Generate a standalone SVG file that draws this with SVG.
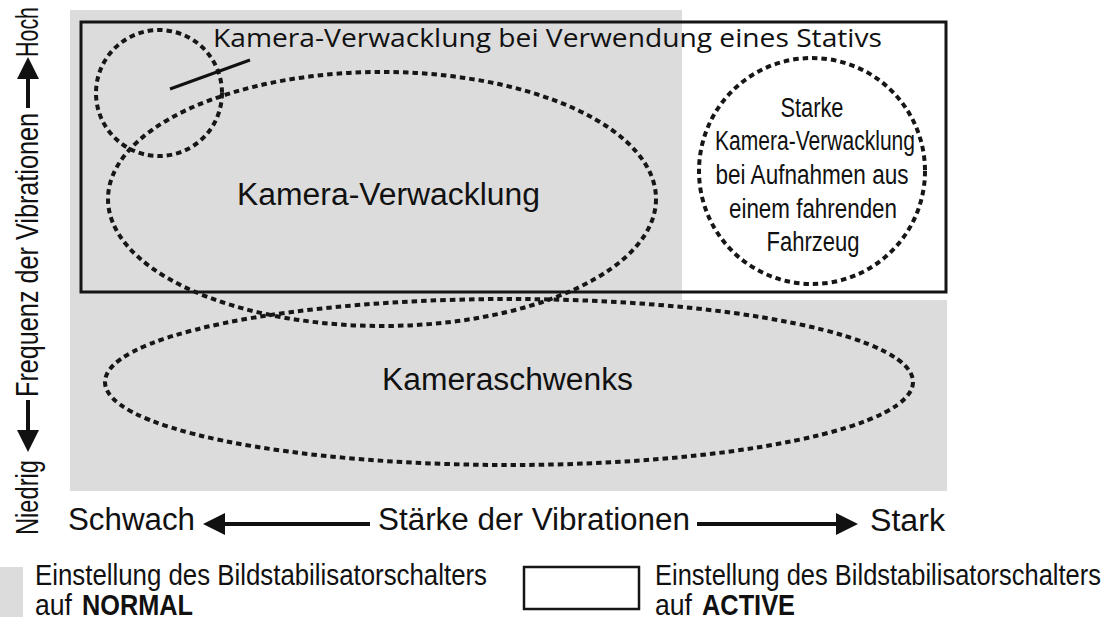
<svg xmlns="http://www.w3.org/2000/svg" width="1110" height="623" viewBox="0 0 1110 623">
<defs>
<style>
.grey{fill:#dcdcdc}
.frame{fill:none;stroke:#151515;stroke-width:3}
.dot{fill:none;stroke:#161616;stroke-width:4;stroke-dasharray:5.5 4}
.lbl{font-family:"Liberation Sans",Arial,sans-serif;fill:#111}
.cond{font-family:"Liberation Sans Narrow","Liberation Sans",Arial,sans-serif;fill:#111}
.myr{font-family:"Open Sans","Liberation Sans",sans-serif;fill:#111}
.arr{stroke:#111;stroke-width:4;fill:none}
</style>
<marker id="ah" viewBox="0 0 22 22" refX="10" refY="11" markerWidth="22" markerHeight="22" markerUnits="userSpaceOnUse" orient="auto"><path d="M0,0 L22,11 L0,22 z" fill="#111"/></marker>
</defs>
<rect width="1110" height="623" fill="#fff"/>
<g id="normal-area">
<rect class="grey" x="70" y="10" width="612" height="290"/>
<rect class="grey" x="70" y="300" width="877" height="191"/>
</g>
<g id="active-area">
<rect class="frame" x="81" y="22" width="865" height="270"/>
</g>
<g id="node-stativ">
<circle class="dot" cx="159" cy="93" r="63"/>
<line x1="170" y1="89" x2="250" y2="60" stroke="#111" stroke-width="3"/>
<text class="myr" x="213" y="47" font-size="26" textLength="669" lengthAdjust="spacingAndGlyphs">Kamera-Verwacklung bei Verwendung eines Stativs</text>
</g>
<g id="node-verwacklung">
<ellipse class="dot" cx="382" cy="199" rx="274" ry="127"/>
<text class="lbl" x="237" y="205" font-size="31" textLength="303" lengthAdjust="spacingAndGlyphs">Kamera-Verwacklung</text>
</g>
<g id="node-schwenks">
<ellipse class="dot" cx="509" cy="382" rx="404" ry="83"/>
<text class="lbl" x="382" y="390" font-size="31" textLength="251" lengthAdjust="spacingAndGlyphs">Kameraschwenks</text>
</g>
<g id="node-fahrzeug">
<circle class="dot" cx="812" cy="171" r="113"/>
<g class="cond" font-size="27" text-anchor="middle">
<text x="812" y="117" textLength="63" lengthAdjust="spacingAndGlyphs">Starke</text>
<text x="815" y="150" textLength="200" lengthAdjust="spacingAndGlyphs">Kamera-Verwacklung</text>
<text x="812" y="184" textLength="193" lengthAdjust="spacingAndGlyphs">bei Aufnahmen aus</text>
<text x="813" y="218" textLength="168" lengthAdjust="spacingAndGlyphs">einem fahrenden</text>
<text x="813" y="251" textLength="93" lengthAdjust="spacingAndGlyphs">Fahrzeug</text>
</g>
</g>
<g id="y-axis">
<g transform="rotate(-90)" class="cond" font-size="31">
<text x="-535" y="38" textLength="75" lengthAdjust="spacingAndGlyphs">Niedrig</text>
<text x="-397" y="38" textLength="284" lengthAdjust="spacingAndGlyphs">Frequenz der Vibrationen</text>
<text x="-57" y="38" textLength="50" lengthAdjust="spacingAndGlyphs">Hoch</text>
</g>
</g>
<g id="x-axis" class="lbl" font-size="31">
<text x="68" y="530" textLength="127" lengthAdjust="spacingAndGlyphs">Schwach</text>
<text x="378" y="530" textLength="312" lengthAdjust="spacingAndGlyphs">Stärke der Vibrationen</text>
<text x="870" y="531" textLength="75" lengthAdjust="spacingAndGlyphs">Stark</text>
</g>
<g id="connectors">
<line class="arr" x1="28" y1="400" x2="28" y2="440" marker-end="url(#ah)"/>
<line class="arr" x1="28" y1="108" x2="28" y2="69" marker-end="url(#ah)"/>
<line class="arr" x1="370" y1="524" x2="215" y2="524" marker-end="url(#ah)"/>
<line class="arr" x1="697" y1="524" x2="846" y2="524" marker-end="url(#ah)"/>
</g>
<g id="legend-normal">
<rect class="grey" x="0" y="567" width="23" height="50"/>
<text class="cond" font-size="29" x="35" y="585" textLength="452" lengthAdjust="spacingAndGlyphs">Einstellung des Bildstabilisatorschalters</text>
<text class="cond" font-size="29" y="615"><tspan x="35" textLength="37" lengthAdjust="spacingAndGlyphs">auf</tspan><tspan x="82" font-weight="bold" textLength="111" lengthAdjust="spacingAndGlyphs">NORMAL</tspan></text>
</g>
<g id="legend-active">
<rect x="524" y="567" width="115" height="42" fill="#fff" stroke="#151515" stroke-width="2.5"/>
<text class="cond" font-size="29" x="655" y="585" textLength="446" lengthAdjust="spacingAndGlyphs">Einstellung des Bildstabilisatorschalters</text>
<text class="cond" font-size="29" y="615"><tspan x="655" textLength="37" lengthAdjust="spacingAndGlyphs">auf</tspan><tspan x="702" font-weight="bold" textLength="93" lengthAdjust="spacingAndGlyphs">ACTIVE</tspan></text>
</g>
</svg>
